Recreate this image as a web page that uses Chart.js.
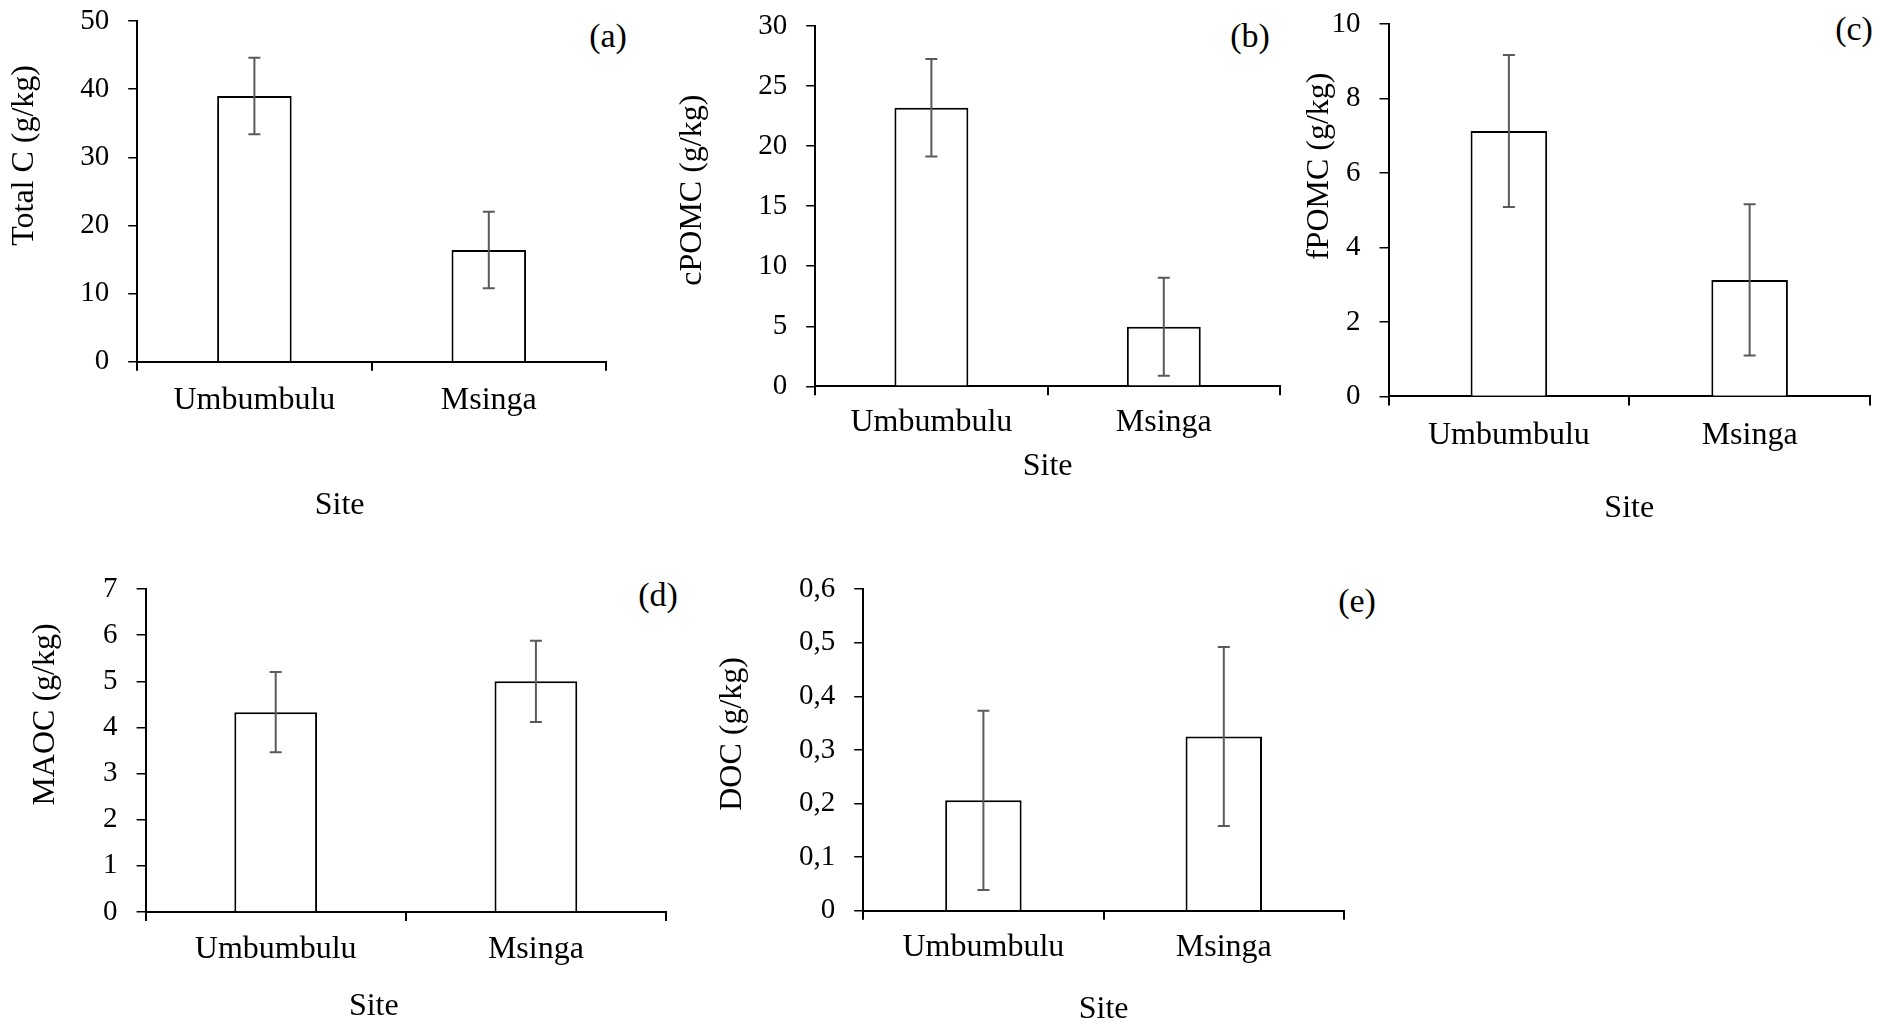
<!DOCTYPE html>
<html>
<head>
<meta charset="utf-8">
<title>Soil carbon fractions by site</title>
<script src="https://cdn.jsdelivr.net/npm/chart.js@4.4.1/dist/chart.umd.min.js"></script>
<style>
  html, body { margin: 0; padding: 0; background: #fff; }
  body {
    width: 1898px; height: 1026px; position: relative; overflow: hidden;
    font-family: "Liberation Serif", "Times New Roman", serif; color: #000;
  }
  .panel { position: absolute; }
  .tag {
    position: absolute; font-size: 34px; line-height: 1;
    transform: translate(-50%, -50%); white-space: nowrap;
  }
</style>
</head>
<body>

<div class="tag" style="left:608px;top:36px">(a)</div>
<div class="tag" style="left:1250px;top:36px">(b)</div>
<div class="tag" style="left:1854px;top:29px">(c)</div>
<div class="tag" style="left:658px;top:595px">(d)</div>
<div class="tag" style="left:1357px;top:601px">(e)</div>

<script>
// ---------------- data ----------------
const sites = ["Umbumbulu", "Msinga"];

const totalC = [39.0, 16.4];
const totalCErr = [5.6, 5.6];

const cPOMC = [23.2, 4.95];
const cPOMCErr = [4.06, 4.08];

const fPOMC = [7.13, 3.13];
const fPOMCErr = [2.04, 2.03];

const MAOC = [4.33, 5.0];
const MAOCErr = [0.87, 0.88];

const DOC = [0.206, 0.325];
const DOCErr = [0.167, 0.167];

// y axis ranges: [max, step]
const totalCAxis = [50, 10];
const cPOMCAxis = [30, 5];
const fPOMCAxis = [10, 2];
const MAOCAxis = [7, 1];
const DOCAxis = [0.6, 0.1];

// ---------------- style ----------------
const FONT = '"Liberation Serif", "Times New Roman", serif';
const TITLE_SIZE = 32, TICK_SIZE = 29, LH = 1.2;
const TITLE_HALF = TITLE_SIZE * LH / 2;
const NBSP = "\u00A0";

// error bars drawn from the bar elements + y scale
const errorBars = {
  id: "errorBars",
  afterDatasetsDraw(chart) {
    const ctx = chart.ctx;
    const y = chart.scales.y;
    chart.data.datasets.forEach((ds, di) => {
      const meta = chart.getDatasetMeta(di);
      meta.data.forEach((bar, i) => {
        const v = ds.data[i], e = ds.errors[i];
        const top = y.getPixelForValue(v + e);
        const bot = y.getPixelForValue(v - e);
        ctx.save();
        ctx.strokeStyle = "#5a5a5a";
        ctx.lineWidth = 2;
        ctx.beginPath();
        ctx.moveTo(bar.x, top); ctx.lineTo(bar.x, bot);
        ctx.moveTo(bar.x - 6, top); ctx.lineTo(bar.x + 6, top);
        ctx.moveTo(bar.x - 6, bot); ctx.lineTo(bar.x + 6, bot);
        ctx.stroke();
        ctx.restore();
      });
    });
  }
};

function commaTick(v) {
  if (v === 0) return "0";
  return String(+v.toFixed(1)).replace(".", ",");
}

function makePanel(box, yLabel, values, errors, axis, tickFmt) {
  const padTop = 50, padRight = 20;
  const left = box.titleX - TITLE_HALF;
  const top = box.T - padTop;
  const right = box.R + padRight;
  const bottom = box.siteY + TITLE_HALF;
  const w = Math.round(right - left), h = Math.round(bottom - top);

  const wrap = document.createElement("div");
  wrap.className = "panel";
  wrap.style.left = left + "px";
  wrap.style.top = top + "px";
  wrap.style.width = w + "px";
  wrap.style.height = h + "px";
  const canvas = document.createElement("canvas");
  canvas.width = w; canvas.height = h;
  wrap.appendChild(canvas);
  document.body.appendChild(wrap);

  new Chart(canvas, {
    type: "bar",
    data: {
      labels: sites,
      datasets: [{
        data: values,
        errors: errors,
        backgroundColor: "#fff",
        borderColor: "#000",
        borderWidth: 2,
        barPercentage: 0.318,
        categoryPercentage: 1
      }]
    },
    options: {
      responsive: false,
      animation: false,
      devicePixelRatio: 1,
      layout: { padding: { top: padTop, right: padRight, left: 0, bottom: 0 } },
      plugins: { legend: { display: false }, tooltip: { enabled: false } },
      scales: {
        x: {
          offset: true,
          grid: { offset: true, drawOnChartArea: false, drawTicks: true, tickLength: 9, color: "#000", lineWidth: 2 },
          border: { display: true, color: "#000", width: 2 },
          ticks: {
            color: "#000", autoSkip: false, maxRotation: 0,
            font: { family: FONT, size: TITLE_SIZE, lineHeight: LH },
            padding: box.labelY - box.B - 9 - TITLE_HALF
          },
          title: {
            display: true, text: "Site" + NBSP.repeat(box.siteShift), color: "#000", padding: 0,
            font: { family: FONT, size: TITLE_SIZE, lineHeight: LH }
          },
          afterFit: s => { s.height = box.siteY + TITLE_HALF - box.B; }
        },
        y: {
          min: 0, max: axis[0],
          grid: { drawOnChartArea: false, drawTicks: true, tickLength: 9, color: "#000", lineWidth: 1.5 },
          border: { display: true, color: "#000", width: 2 },
          ticks: {
            stepSize: axis[1], color: "#000", padding: 19,
            font: { family: FONT, size: TICK_SIZE, lineHeight: LH },
            callback: tickFmt || (v => String(v))
          },
          title: {
            display: true, text: NBSP.repeat(box.titleShift) + yLabel, color: "#000", padding: 0,
            font: { family: FONT, size: TITLE_SIZE, lineHeight: LH }
          },
          afterFit: s => { s.width = box.L - left; }
        }
      }
    },
    plugins: [errorBars]
  });
}

// plot boxes (page px)
makePanel({ L: 137.3, R: 606, T: 20.7, B: 361, titleX: 24.3, labelY: 400, siteY: 505, titleShift: 9, siteShift: 8 },
  "Total C (g/kg)", totalC, totalCErr, totalCAxis);
makePanel({ L: 815.3, R: 1280.5, T: 25.7, B: 386, titleX: 692.3, labelY: 422.5, siteY: 466.5, titleShift: 4, siteShift: 0 },
  "cPOMC (g/kg)", cPOMC, cPOMCErr, cPOMCAxis);
makePanel({ L: 1388.3, R: 1869.8, T: 24.3, B: 396.7, titleX: 1319, labelY: 436, siteY: 509, titleShift: 11, siteShift: 0 },
  "fPOMC (g/kg)", fPOMC, fPOMCErr, fPOMCAxis);
makePanel({ L: 146, R: 666.7, T: 589.3, B: 912.7, titleX: 45.6, labelY: 950, siteY: 1007.5, titleShift: 9, siteShift: 8 },
  "MAOC (g/kg)", MAOC, MAOCErr, MAOCAxis);
makePanel({ L: 863.3, R: 1343.8, T: 589.3, B: 911, titleX: 732.3, labelY: 947.5, siteY: 1010, titleShift: 4, siteShift: 0 },
  "DOC (g/kg)", DOC, DOCErr, DOCAxis, commaTick);
</script>
</body>
</html>
